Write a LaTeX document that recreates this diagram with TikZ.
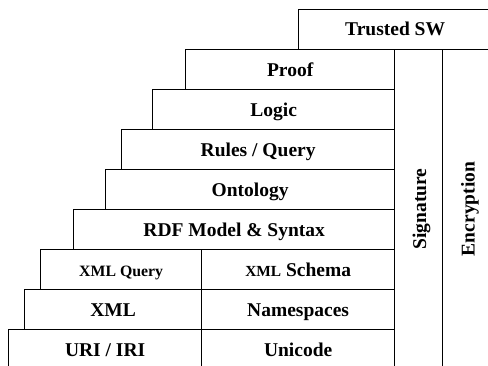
\documentclass[tikz,border=0pt]{standalone}
\usepackage{fontspec}
\setmainfont{Liberation Serif}
\begin{document}
\begin{tikzpicture}[x=1pt,y=-1pt,
  layer/.style={draw, line width=1.3pt, rectangle, inner sep=0pt, anchor=north west,
    text height=13pt, text depth=0pt,
    font=\fontsize{19.5}{22}\selectfont\bfseries},
  vlabel/.style={font=\fontsize{19.5}{22}\selectfont\bfseries, rotate=90, inner sep=0pt,
    text height=13pt, text depth=0pt}]
\useasboundingbox (0,0) rectangle (488,365);
\clip (0,0) rectangle (488,365);
\fill[white] (0,0) rectangle (488,365);
\newcommand{\lbox}[6]{%
  \node[layer, minimum width=#4-#2, minimum height=#5-#3] (#1) at (#2,#3) {#6};}
\lbox{trusted}{298}{8.5}{491}{49}{Trusted SW}
\lbox{sig}{394}{49}{442}{369}{}
\lbox{enc}{442}{49}{491}{369}{}
\lbox{proof}{185}{49}{394}{89}{Proof}
\lbox{logic}{152}{89}{394}{129}{Logic}
\lbox{rules}{121}{129}{394}{169}{Rules / Query}
\lbox{onto}{105}{169}{394}{209}{Ontology}
\lbox{rdf}{73}{209}{394}{249}{RDF Model \& Syntax}
\lbox{xmlq}{40}{249}{201}{289}{\fontsize{15.8}{18}\selectfont XML Query}
\lbox{schema}{201}{249}{394}{289}{{\fontsize{15.4}{18}\selectfont XML} Schema}
\lbox{xml}{24}{289}{201}{329}{XML}
\lbox{ns}{201}{289}{394}{329}{Namespaces}
\lbox{uri}{8}{329}{201}{369}{URI / IRI}
\lbox{unicode}{201}{329}{394}{369}{Unicode}
\node[vlabel] (sigt) at (419.5,209) {Signature};
\node[vlabel] (enct) at (468,209) {Encryption};
\end{tikzpicture}
\end{document}
